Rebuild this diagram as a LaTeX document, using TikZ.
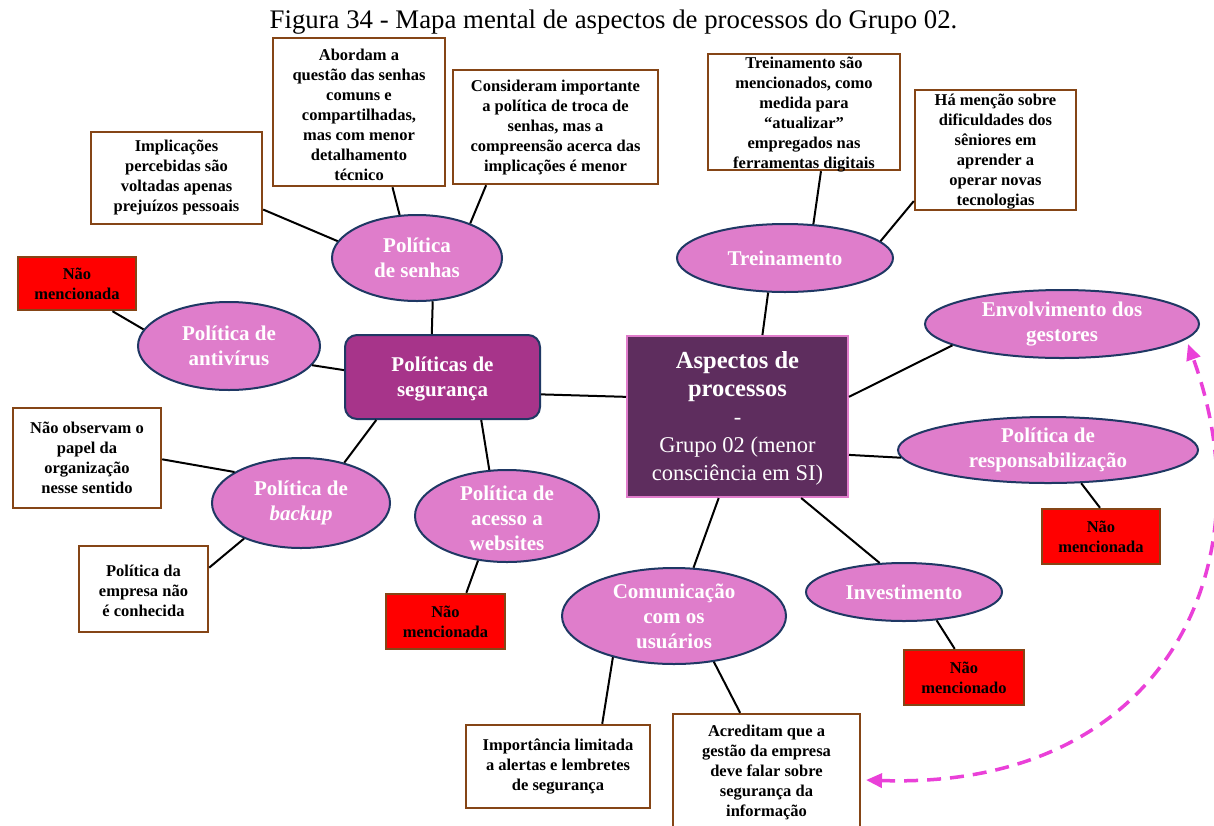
\documentclass[tikz,border=0pt]{standalone}
\usepackage{fontspec}
\setmainfont{Liberation Serif}
\usetikzlibrary{shapes.geometric,arrows.meta,calc}
\definecolor{bubfill}{RGB}{223,125,203}
\definecolor{bubline}{RGB}{31,56,100}
\definecolor{segfill}{RGB}{167,52,138}
\definecolor{aspfill}{RGB}{94,45,94}
\definecolor{aspline}{RGB}{224,124,203}
\definecolor{notebrown}{RGB}{133,69,22}
\definecolor{dashmag}{RGB}{234,64,216}
\newcommand{\aspbold}{\bfseries\fontsize{24.5}{29}\selectfont}
\newcommand{\aspreg}{\mdseries\fontsize{22.5}{28}\selectfont}
\begin{document}
\begin{tikzpicture}[x=1pt,y=-1pt,
  notebox/.style={draw=notebrown, line width=2.4pt, fill=white, inner sep=0pt},
  redbox/.style={notebox, fill=red},
  notetext/.style={align=center, inner sep=0pt, font=\bfseries\fontsize{16.5}{20}\selectfont},
  bubble/.style={ellipse, draw=bubline, line width=2pt, fill=bubfill, inner sep=0pt},
  bubtext/.style={align=center, inner sep=0pt, text=white, font=\bfseries\fontsize{21}{25}\selectfont},
  conn/.style={draw=black, line width=2pt},
  dasharrow/.style={draw=dashmag, line width=3.5pt, dash pattern=on 14pt off 9pt,
    {Triangle[length=16pt,width=14pt]}-{Triangle[length=16pt,width=14pt]}}
]
\useasboundingbox (0,0) rectangle (1214,825);
\fill[white] (0,0) rectangle (1214,825);

% caption
\node[anchor=base, inner sep=0pt, font=\fontsize{26.8}{30}\selectfont] (title) at (613.5,28)
  {Figura 34 - Mapa mental de aspectos de processos do Grupo 02.};

% central node and main branch
\node[draw=aspline, line width=2pt, fill=aspfill, minimum width=221, minimum height=161, inner sep=0pt] (asp) at (737.5,416.5) {};
\node[align=center, text=white, inner sep=0pt, font=\aspreg] (asp-t) at ($(asp)+(0,2)$)
  {\aspbold Aspectos de\\\aspbold processos\\\aspreg -\\\aspreg Grupo 02 (menor\\\aspreg consciência em SI)};

\node[draw=bubline, line width=2pt, fill=segfill, rounded corners=12pt, minimum width=195, minimum height=84, inner sep=0pt] (seg) at (442.5,377) {};
\node[bubtext] (seg-t) at ($(seg)+(0,2)$) {Políticas de\\segurança};

% ellipses
\node[bubble, minimum width=170, minimum height=86] (senhas) at (417,258) {};
\node[bubtext] (senhas-t) at (senhas) {Política\\de senhas};
\node[bubble, minimum width=182, minimum height=88] (antiv) at (229,346) {};
\node[bubtext] (antiv-t) at (antiv) {Política de\\antivírus};
\node[bubble, minimum width=178, minimum height=90] (backup) at (301,503) {};
\node[bubtext] (backup-t) at (backup) {Política de\\\textit{backup}};
\node[bubble, minimum width=184, minimum height=92] (web) at (507,516) {};
\node[bubtext] (web-t) at ($(web)+(0,2)$) {Política de\\acesso a\\websites};
\node[bubble, minimum width=216, minimum height=68] (trein) at (785,258) {};
\node[bubtext] (trein-t) at (trein) {Treinamento};
\node[bubble, minimum width=274, minimum height=68] (envolv) at (1062,324) {};
\node[bubtext] (envolv-t) at (envolv) {Envolvimento dos\\gestores};
\node[bubble, minimum width=300, minimum height=66] (respons) at (1048,450) {};
\node[bubtext] (respons-t) at (respons) {Política de\\responsabilização};
\node[bubble, minimum width=196, minimum height=58] (invest) at (904,592) {};
\node[bubtext] (invest-t) at (invest) {Investimento};
\node[bubble, minimum width=224, minimum height=96] (comun) at (674,616) {};
\node[bubtext] (comun-t) at (comun) {Comunicação\\com os\\usuários};

% text boxes
\node[notebox, minimum width=172, minimum height=148] (abordam) at (359,112) {};
\node[notetext] (abordam-t) at ($(abordam)+(0,3)$) {Abordam a\\questão das senhas\\comuns e\\compartilhadas,\\mas com menor\\detalhamento\\técnico};
\node[notebox, minimum width=205, minimum height=114] (consid) at (555.5,127) {};
\node[notetext] (consid-t) at ($(consid)+(0,1)$) {Consideram importante\\a política de troca de\\senhas, mas a\\compreensão acerca das\\implicações é menor};
\node[notebox, minimum width=171, minimum height=92] (implic) at (176.5,178) {};
\node[notetext] (implic-t) at (implic) {Implicações\\percebidas são\\voltadas apenas\\prejuízos pessoais};
\node[notebox, minimum width=192, minimum height=116] (treinbox) at (804,112) {};
\node[notetext] (treinbox-t) at ($(treinbox)+(0,3)$) {Treinamento são\\mencionados, como\\medida para\\“atualizar”\\empregados nas\\ferramentas digitais};
\node[notebox, minimum width=161, minimum height=120] (senior) at (995.5,150) {};
\node[notetext] (senior-t) at ($(senior)+(0,2)$) {Há menção sobre\\dificuldades dos\\sêniores em\\aprender a\\operar novas\\tecnologias};
\node[redbox, minimum width=118, minimum height=53] (red1) at (77,283.5) {};
\node[notetext] (red1-t) at (red1) {Não\\mencionada};
\node[notebox, minimum width=148, minimum height=100] (naoobs) at (87,458) {};
\node[notetext] (naoobs-t) at (naoobs) {Não observam o\\papel da\\organização\\nesse sentido};
\node[notebox, minimum width=129, minimum height=86] (empresa) at (143.5,589) {};
\node[notetext] (empresa-t) at ($(empresa)+(0,2)$) {Política da\\empresa não\\é conhecida};
\node[redbox, minimum width=119, minimum height=55] (red2) at (445.5,621.5) {};
\node[notetext] (red2-t) at (red2) {Não\\mencionada};
\node[redbox, minimum width=118, minimum height=55] (red3) at (1101,536.5) {};
\node[notetext] (red3-t) at (red3) {Não\\mencionada};
\node[redbox, minimum width=120, minimum height=55] (red4) at (964,677.5) {};
\node[notetext] (red4-t) at (red4) {Não\\mencionado};
\node[notebox, minimum width=184, minimum height=83] (import) at (558,766.5) {};
\node[notetext] (import-t) at (import) {Importância limitada\\a alertas e lembretes\\de segurança};
\node[notebox, minimum width=187, minimum height=116] (acred) at (766.5,772) {};
\node[notetext] (acred-t) at (acred) {Acreditam que a\\gestão da empresa\\deve falar sobre\\segurança da\\informação};

% connectors
\draw[conn] (seg.-10) -- (asp.170);
\draw[conn] (seg.104) -- (senhas.-70);
\draw[conn] (seg.176) -- (antiv.-13);
\draw[conn] (seg.-147) -- (backup.43);
\draw[conn] (seg.-48) -- (web.111);
\draw[conn] (abordam.-66.6) -- (senhas.112);
\draw[conn] (consid.-140.6) -- (senhas.33);
\draw[conn] (implic.-20.5) -- (senhas.168.5);
\draw[conn] (red1.-38.8) -- (antiv.169);
\draw[conn] (naoobs.-1.5) -- (backup.155);
\draw[conn] (empresa.18) -- (backup.-148.7);
\draw[conn] (red2.54.7) -- (web.-123.4);
\draw[conn] (asp.73) -- (trein.-116.6);
\draw[conn] (treinbox.-74.6) -- (trein.50.7);
\draw[conn] (senior.-148) -- (trein.10);
\draw[conn] (asp.10.5) -- (envolv.-169);
\draw[conn] (asp.-19.7) -- (respons.-177);
\draw[conn] (red3.92) -- (respons.-45);
\draw[conn] (asp.-52) -- (invest.130.6);
\draw[conn] (red4.108) -- (invest.-41);
\draw[conn] (asp.-103.6) -- (comun.68);
\draw[conn] (import.44.7) -- (comun.-146.7);
\draw[conn] (acred.114.6) -- (comun.-49.8);

% dashed double arrow between management box and Envolvimento
\coordinate (dtop) at (1188,344);
\coordinate (dbot) at (866,780);
\draw[dasharrow] (dbot) .. controls (1160,790) and (1270,570) .. (dtop);
\end{tikzpicture}
\end{document}
